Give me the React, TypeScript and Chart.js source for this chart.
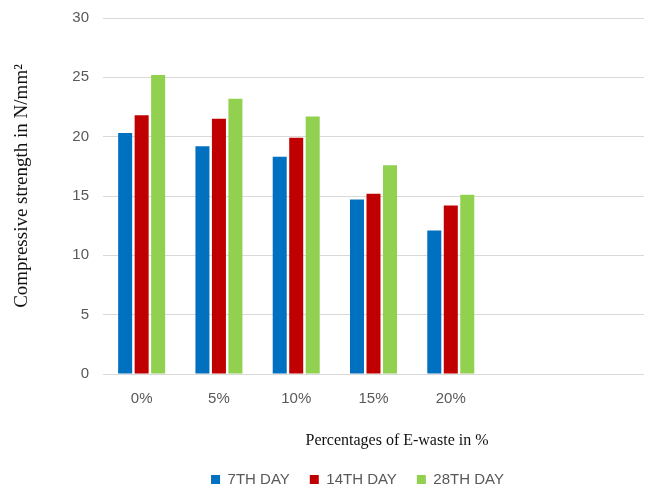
import React, { useEffect, useRef } from 'react';
import { Chart, registerables } from 'chart.js';

Chart.register(...registerables);

const categories = ['0%', '5%', '10%', '15%', '20%', '', ''];
const seriesLabels = ['7TH DAY', '14TH DAY', '28TH DAY'];
const day7 = [20.3, 19.2, 18.3, 14.7, 12.1];
const day14 = [21.8, 21.5, 19.9, 15.2, 14.2];
const day28 = [25.2, 23.2, 21.7, 17.6, 15.1];
const seriesColors = ['#0070C0', '#C00000', '#92D050'];
const yMin = 0;
const yMax = 30;
const yStep = 5;
const yTitle = 'Compressive strength in N/mm²';
const xTitle = 'Percentages of E-waste in %';

const placePlugin = {
  id: 'placeBlocks',
  afterLayout(chart: any) {
    const lg = chart.legend;
    if (lg) {
      const w = lg.right - lg.left;
      const h = lg.bottom - lg.top;
      lg.left = 357.5 - w / 2;
      lg.right = lg.left + w;
      lg.top = lg.top + 6;
      lg.bottom = lg.top + h;
    }
    const tb = chart.titleBlock;
    if (tb) {
      const w = tb.right - tb.left;
      const h = tb.bottom - tb.top;
      tb.left = 397 - w / 2;
      tb.right = tb.left + w;
      tb.top = 441 - h / 2;
      tb.bottom = tb.top + h;
    }
    const ys = chart.scales.y;
    if (ys && !ys.__patched) {
      ys.__patched = true;
      const orig = ys.drawTitle.bind(ys);
      ys.drawTitle = function () {
        const t = this.top;
        const b = this.bottom;
        this.top = t - 10;
        this.bottom = b - 10;
        orig();
        this.top = t;
        this.bottom = b;
      };
    }
  },
};

export default function App() {
  const ref = useRef<HTMLCanvasElement>(null);

  useEffect(() => {
    if (!ref.current) return;
    const data = [day7, day14, day28];
    const chart = new Chart(ref.current, {
      type: 'bar',
      data: {
        labels: categories,
        datasets: seriesLabels.map((label, i) => ({
          label,
          data: data[i],
          backgroundColor: seriesColors[i],
          borderWidth: 0,
          categoryPercentage: 0.64,
          barPercentage: 0.85,
        })),
      },
      options: {
        responsive: false,
        animation: false,
        layout: { padding: { left: 0, right: 3, top: 18, bottom: 0 } },
        plugins: {
          tooltip: { enabled: false },
          legend: {
            position: 'bottom',
            labels: {
              boxWidth: 9,
              boxHeight: 9,
              padding: 20,
              color: '#595959',
              font: { family: 'Liberation Sans', size: 15 },
            },
          },
          title: {
            display: true,
            text: xTitle,
            position: 'bottom',
            weight: 500,
            padding: 0,
            color: '#111',
            font: { family: 'Liberation Serif', size: 16, weight: 'normal' },
          },
        },
        scales: {
          x: {
            grid: { display: false },
            border: { display: false },
            ticks: {
              padding: 8,
              color: '#595959',
              font: { family: 'Liberation Sans', size: 15 },
            },
            afterFit(scale: any) {
              scale.height = 52.8;
              scale.paddingLeft = 0;
              scale.paddingRight = 0;
            },
          },
          y: {
            min: yMin,
            max: yMax,
            grid: { color: '#d9d9d9', lineWidth: 1, drawTicks: false },
            border: { display: false },
            ticks: {
              stepSize: yStep,
              padding: 14,
              color: '#595959',
              font: { family: 'Liberation Sans', size: 15 },
            },
            title: {
              display: true,
              text: yTitle,
              color: '#111',
              padding: { top: 11, bottom: 0 },
              font: { family: 'Liberation Serif', size: 19 },
            },
            afterFit(scale: any) {
              scale.width = 103;
              scale.paddingTop = 0;
              scale.paddingBottom = 0;
            },
          },
        },
      },
      plugins: [placePlugin],
    });
    return () => chart.destroy();
  }, []);

  return (
    <div style={{ position: 'fixed', left: 0, top: 0, width: 647, height: 491, background: '#fff' }}>
      <canvas ref={ref} width={647} height={491} style={{ display: 'block' }} />
    </div>
  );
}
